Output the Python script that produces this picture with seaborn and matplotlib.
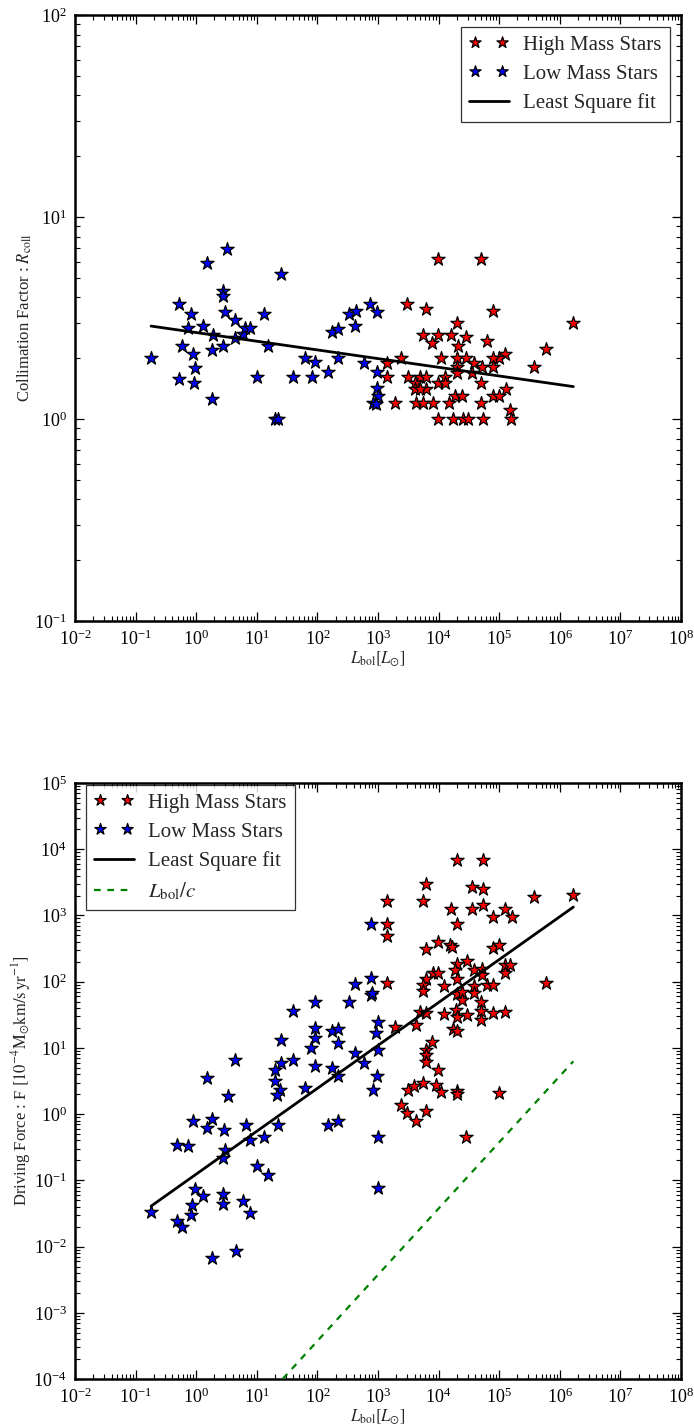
import numpy as np
import pandas as pd
import matplotlib
matplotlib.use("Agg")
import matplotlib.pyplot as plt
import seaborn as sns

# ---------------- data ----------------
# Top panel: collimation factor
L_high_top = [9900, 50000, 2970, 6170, 78000, 1.67e6, 19900, 5460, 9890, 15900,
              28300, 7900, 62200, 20600, 5.9e5, 3.75e5, 1.25e5, 1.0e5, 78000, 79500,
              11000, 19900, 28300, 38800, 51500, 2400, 1390, 1390, 19900, 19900,
              35300, 3100, 4930, 6300, 12800, 4070, 4070, 6300, 4930, 9900,
              12800, 49500, 1.3e5, 79500, 1.0e5, 18600, 24500, 1900, 4240, 5600,
              8180, 14900, 49500, 1.5e5, 1.57e5, 9900, 17100, 25000, 30200, 53500]
R_high_top = [6.18, 6.18, 3.7, 3.5, 3.43, 3.0, 3.0, 2.6, 2.6, 2.6,
              2.54, 2.39, 2.42, 2.30, 2.21, 1.80, 2.10, 2.01, 2.01, 1.80,
              2.01, 2.01, 2.01, 1.90, 1.81, 2.01, 1.90, 1.62, 1.81, 1.68,
              1.68, 1.61, 1.62, 1.62, 1.62, 1.50, 1.40, 1.40, 1.40, 1.50,
              1.50, 1.50, 1.40, 1.30, 1.30, 1.30, 1.30, 1.20, 1.20, 1.20,
              1.20, 1.20, 1.20, 1.11, 1.0, 1.0, 1.0, 1.0, 1.0, 1.0]

L_low_top = [0.18, 0.51, 0.81, 0.74, 0.58, 0.90, 0.95, 0.51, 0.92, 1.49,
             3.27, 2.8, 2.8, 2.99, 1.31, 1.92, 1.85, 2.8, 4.36, 4.36,
             6.0, 6.4, 7.7, 1.85, 13.2, 15.1, 10.2, 20, 22.6, 25,
             40, 62, 91, 80, 148, 221, 176, 221, 333, 433,
             418, 738, 594, 955, 955, 1010, 814, 935, 980]
R_low_top = [2.0, 3.7, 3.3, 2.83, 2.3, 2.11, 1.79, 1.57, 1.50, 5.9,
             6.95, 4.3, 4.06, 3.4, 2.9, 2.6, 2.2, 2.3, 3.09, 2.51,
             2.63, 2.81, 2.81, 1.26, 3.3, 2.3, 1.62, 1.0, 1.0, 5.2,
             1.61, 2.01, 1.91, 1.61, 1.70, 2.01, 2.70, 2.79, 3.3, 3.43,
             2.9, 3.7, 1.90, 1.70, 1.42, 1.30, 1.20, 1.19, 3.4]

# Bottom panel: driving force
L_high_bot = [19900, 54700, 6150, 36000, 54700, 1.67e6, 3.75e5, 1390, 5460, 15900,
              36000, 54700, 1.25e5, 1.6e5, 79500, 1390, 19900, 1390, 6150, 9900,
              15500, 16500, 79500, 1.0e5, 19900, 29800, 18600, 38800, 51500, 51500,
              1.25e5, 1.5e5, 1.25e5, 8180, 9900, 19900, 6300, 5600, 5460, 12400,
              38800, 62200, 79500, 5.9e5, 1390, 19900, 24500, 38800, 24500, 49500,
              4930, 6150, 12400, 19400, 19900, 29000, 50000, 50000, 79500, 1.25e5,
              1900, 4240, 17100, 19900, 7900, 6150, 6300, 6300, 9900, 5460,
              3150, 3920, 9120, 11000, 19900, 19900, 1.0e5, 2400, 2970, 6300,
              4240, 28000]
F_high_bot = [6820, 6820, 3030, 2700, 2550, 2020, 1910, 1680, 1680, 1270,
              1270, 1430, 1270, 953, 953, 755, 755, 497, 313, 399,
              364, 330, 324, 364, 188, 204, 149, 149, 158, 124,
              177, 177, 136, 136, 136, 111, 108, 88, 71.6, 85,
              85, 88, 88, 96, 96, 65, 69, 67, 53.7, 48.9,
              35, 33.8, 32.6, 37.9, 29, 31.8, 35.7, 26.8, 33.8, 34.5,
              20.5, 22.5, 19.6, 17.8, 12.2, 9.4, 7.9, 6.1, 4.7, 2.96,
              2.34, 2.63, 2.79, 2.16, 2.21, 2.04, 2.09, 1.39, 1.04, 1.10,
              0.80, 0.45]

L_low_bot = [757, 757, 417, 757, 800, 333, 91, 40, 990, 930,
             91, 91, 176, 221, 216, 78, 24.8, 40, 24.8, 20,
             20, 24.2, 21.3, 91, 176, 417, 594, 221, 950, 813,
             62, 4.37, 1.49, 3.3, 0.9, 1.85, 1.49, 2.88, 6.6, 22,
             13.2, 7.7, 148, 216, 1010, 0.49, 0.74, 3.0, 2.8, 10.2,
             15.1, 0.95, 1.31, 2.8, 2.8, 0.86, 0.81, 5.85, 7.7, 0.18,
             0.49, 0.59, 990, 1010, 1.82, 4.5]
F_low_bot = [755, 114, 92.7, 64, 67, 48.9, 49, 36.6, 24.7, 16.9,
             20, 14.2, 18.2, 19.4, 11.9, 9.8, 13.0, 6.66, 5.9, 4.7,
             3.13, 2.34, 1.97, 5.3, 4.98, 8.4, 5.9, 3.72, 3.8, 2.34,
             2.49, 6.66, 3.52, 1.86, 0.80, 0.83, 0.62, 0.57, 0.68, 0.68,
             0.45, 0.40, 0.68, 0.80, 0.45, 0.34, 0.33, 0.29, 0.218, 0.167,
             0.119, 0.074, 0.059, 0.062, 0.044, 0.042, 0.030, 0.048, 0.032, 0.033,
             0.024, 0.020, 0.077, 9.4, 0.0068, 0.0085]

# least-square fits in log space: log10(y) = a + b*log10(L)
fit_top = [0.428, -0.043]
fit_bot = [-0.906, 0.648]
# L_bol/c line: log10(F) = log10(L) + c
lc_offset = -5.425

xticks_exp = list(range(-2, 9))

# ---------------- style ----------------
sns.set_style("ticks")
plt.rcParams['font.family'] = ['Liberation Serif', 'DejaVu Serif']
plt.rcParams['mathtext.fontset'] = 'stix'

fig = plt.figure(figsize=(6.94, 14.27), dpi=100)
ax1 = fig.add_axes([0.1081, 0.5648, 0.8732, 0.4247])
ax2 = fig.add_axes([0.1081, 0.0336, 0.8732, 0.4177])


def star_layer(ax, x, y, color, label):
    df = pd.DataFrame({'x': x, 'y': y})
    sns.scatterplot(data=df, x='x', y='y', ax=ax, marker='*', s=100,
                    color=color, edgecolor='black', linewidth=0.9,
                    label=label, zorder=3)


def fit_layer(ax, Lmin, Lmax, coef, **kw):
    lx = np.array([Lmin, Lmax])
    ly = 10 ** (coef[0] + coef[1] * np.log10(lx))
    sns.lineplot(x=lx, y=ly, ax=ax, sort=False, estimator=None, **kw)


def style_axes(ax, ylo, yhi):
    ax.set_xscale('log')
    ax.set_yscale('log')
    ax.set_xlim(1e-2, 1e8)
    ax.set_ylim(ylo, yhi)
    ax.set_xticks([10.0 ** e for e in xticks_exp])
    ax.xaxis.set_minor_locator(matplotlib.ticker.LogLocator(base=10, subs=np.arange(2, 10), numticks=50))
    ax.yaxis.set_minor_locator(matplotlib.ticker.LogLocator(base=10, subs=np.arange(2, 10), numticks=50))
    ax.yaxis.set_major_locator(matplotlib.ticker.LogLocator(base=10, numticks=50))
    ax.xaxis.set_minor_formatter(matplotlib.ticker.NullFormatter())
    ax.yaxis.set_minor_formatter(matplotlib.ticker.NullFormatter())
    ax.tick_params(which='both', direction='in', top=True, right=True,
                   labelsize=13, colors='black')
    ax.tick_params(which='major', length=6.5, width=0.9, pad=6)
    ax.tick_params(which='minor', length=3.5, width=0.8)
    for sp in ax.spines.values():
        sp.set_linewidth(1.8)
        sp.set_color('black')
    ax.set_xlabel(r'$L_{\rm bol}[L_{\odot}]$', fontsize=12, labelpad=0.5)


legend_kw = dict(borderaxespad=0, fontsize=15, scatterpoints=2, scatteryoffsets=[0.5],
                 handlelength=1.9, handletextpad=0.7, labelspacing=0.45,
                 fancybox=False, frameon=True, markerscale=0.85, borderpad=0.4)

# ---- top panel ----
star_layer(ax1, L_high_top, R_high_top, 'red', 'High Mass Stars')
star_layer(ax1, L_low_top, R_low_top, 'blue', 'Low Mass Stars')
allL_top = L_high_top + L_low_top
fit_layer(ax1, min(allL_top), max(allL_top), fit_top, color='black', lw=2,
          label='Least Square fit', zorder=4)
style_axes(ax1, 1e-1, 1e2)
ax1.set_ylabel(r'Collimation Factor : $R_{\rm coll}$', fontsize=12, labelpad=0)
leg1 = ax1.legend(loc='upper right', bbox_to_anchor=(0.982, 0.980), **legend_kw)
leg1.get_frame().set_edgecolor('black')
leg1.get_frame().set_linewidth(0.9)

# ---- bottom panel ----
star_layer(ax2, L_high_bot, F_high_bot, 'red', 'High Mass Stars')
star_layer(ax2, L_low_bot, F_low_bot, 'blue', 'Low Mass Stars')
allL_bot = L_high_bot + L_low_bot
fit_layer(ax2, min(allL_bot), max(allL_bot), fit_bot, color='black', lw=2,
          label='Least Square fit', zorder=4)
fit_layer(ax2, min(allL_bot), max(allL_bot), [lc_offset, 1.0], color='green', lw=1.6,
          dashes=(3, 3), label=r'$L_{\rm bol}/c$', zorder=4)
style_axes(ax2, 1e-4, 1e5)
ax2.set_ylabel(r'Driving Force : F $[10^{-4}{\rm M_{\odot}km/s\,yr^{-1}}]$', fontsize=12, labelpad=0)
leg2 = ax2.legend(loc='upper left', bbox_to_anchor=(0.018, 0.997), **legend_kw)
leg2.get_frame().set_edgecolor('black')
leg2.get_frame().set_linewidth(0.9)

fig.savefig('out.png', dpi=100)
